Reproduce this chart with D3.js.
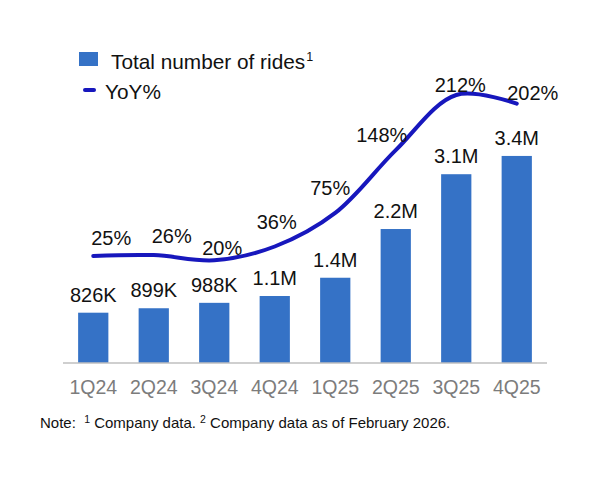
<!DOCTYPE html>
<html>
<head>
<meta charset="utf-8">
<script src="https://cdn.jsdelivr.net/npm/d3@7"></script>
<style>
  html, body { margin: 0; padding: 0; background: #fff; }
  svg { display: block; font-family: "Liberation Sans", Arial, sans-serif; }
  .pre { white-space: pre; }
</style>
</head>
<body>
<svg id="chart" width="600" height="480"></svg>
<script>
// ---- data ----
const quarters = ["1Q24", "2Q24", "3Q24", "4Q24", "1Q25", "2Q25", "3Q25", "4Q25"];
const ridesMillions = [0.826, 0.899, 0.988, 1.1, 1.4, 2.2, 3.1, 3.4];
const rideLabels = ["826K", "899K", "988K", "1.1M", "1.4M", "2.2M", "3.1M", "3.4M"];
const yoyPct = [25, 26, 20, 36, 75, 148, 212, 202];
const yoyLabels = ["25%", "26%", "20%", "36%", "75%", "148%", "212%", "202%"];

// label nudges (annotation layout, px)
const yoyLabelDx = [18, 18, 8, 2, -5, -14, 4, 16];
const yoyLabelDy = [-11, -12, -5, -18, -18, -8, -3, -4];

const svg = d3.select("#chart");
const barColor = "#3572c6";
const lineColor = "#1717bd";

const x = d3.scaleBand().domain(quarters).range([63, 547]).paddingInner(0.5).paddingOuter(0.25);
const yBar = d3.scaleLinear().domain([0, 4]).range([363, 119.4]);
const yLine = d3.scaleLinear().domain([0, 250]).range([277.5, 62.25]);

// bars
svg.append("g").selectAll("rect").data(ridesMillions).join("rect")
  .attr("x", (d, i) => x(quarters[i]))
  .attr("width", x.bandwidth())
  .attr("y", d => yBar(d))
  .attr("height", d => yBar(0) - yBar(d))
  .attr("fill", barColor);

// bar labels
svg.append("g").selectAll("text").data(ridesMillions).join("text")
  .attr("x", (d, i) => x(quarters[i]) + x.bandwidth() / 2)
  .attr("y", d => yBar(d) - 11)
  .attr("text-anchor", "middle")
  .attr("font-size", 20)
  .attr("fill", "#111")
  .text((d, i) => rideLabels[i]);

// x axis
const xAxis = d3.axisBottom(x).tickSize(0).tickPadding(0);
const gx = svg.append("g").attr("transform", "translate(0,363)").call(xAxis);
gx.select(".domain").attr("stroke", "#bfbfbf").attr("stroke-width", 1.5).attr("d", "M63,0H547");
gx.selectAll(".tick text")
  .attr("y", 31)
  .attr("dy", 0)
  .attr("font-size", 19.5)
  .attr("font-family", "Liberation Sans, Arial, sans-serif")
  .attr("fill", "#7c7c7c");

// YoY line
const line = d3.line()
  .x((d, i) => x(quarters[i]) + x.bandwidth() / 2)
  .y(d => yLine(d))
  .curve(d3.curveCatmullRom.alpha(0.5));
svg.append("path").datum(yoyPct)
  .attr("d", line)
  .attr("fill", "none")
  .attr("stroke", lineColor)
  .attr("stroke-width", 4)
  .attr("stroke-linecap", "round");

// YoY labels
svg.append("g").selectAll("text").data(yoyPct).join("text")
  .attr("x", (d, i) => x(quarters[i]) + x.bandwidth() / 2 + yoyLabelDx[i])
  .attr("y", (d, i) => yLine(d) + yoyLabelDy[i])
  .attr("text-anchor", "middle")
  .attr("font-size", 20)
  .attr("fill", "#111")
  .text((d, i) => yoyLabels[i]);

// legend
const lg = svg.append("g");
lg.append("rect").attr("x", 79).attr("y", 52).attr("width", 19).attr("height", 14).attr("fill", barColor);
const t1 = lg.append("text").attr("x", 111).attr("y", 69).attr("font-size", 20.8).attr("fill", "#111");
t1.append("tspan").text("Total number of rides");
t1.append("tspan").attr("font-size", 12.5).attr("dx", 1).attr("dy", -8).text("1");
lg.append("line").attr("x1", 85).attr("x2", 94).attr("y1", 90).attr("y2", 90)
  .attr("stroke", lineColor).attr("stroke-width", 4).attr("stroke-linecap", "round");
lg.append("text").attr("x", 105).attr("y", 99).attr("font-size", 20.8).attr("fill", "#111").text("YoY%");

// note
const note = svg.append("text").attr("class", "pre").attr("x", 40).attr("y", 428).attr("font-size", 15).attr("fill", "#111");
note.append("tspan").text("Note:  ");
note.append("tspan").attr("font-size", 10.5).attr("dy", -5).text("1");
note.append("tspan").attr("dy", 5).text(" Company data. ");
note.append("tspan").attr("font-size", 10.5).attr("dy", -5).text("2");
note.append("tspan").attr("dy", 5).text(" Company data as of February 2026.");
</script>
</body>
</html>
